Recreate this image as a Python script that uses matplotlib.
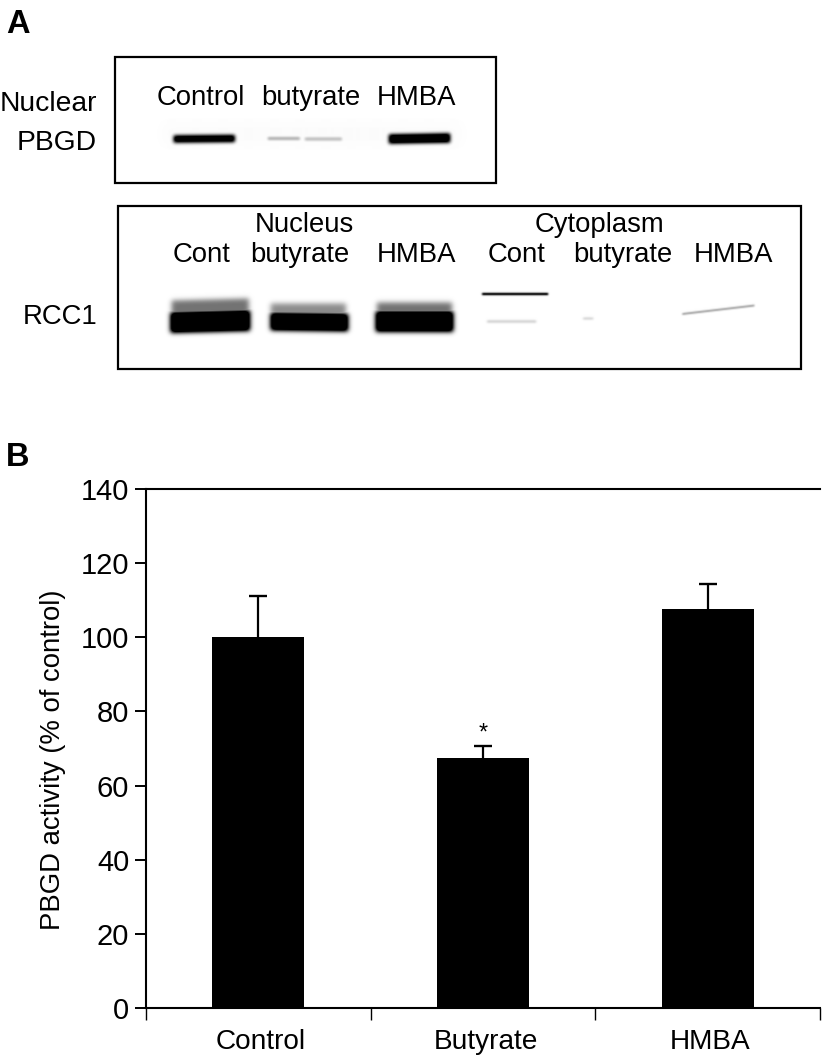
import numpy as np
import matplotlib
matplotlib.use("Agg")
import matplotlib.pyplot as plt
from matplotlib.patches import Rectangle

plt.rcParams['font.family'] = ['Liberation Sans', 'DejaVu Sans']

# Panel B data
categories = ["Control", "Butyrate", "HMBA"]
activity = [100, 67.5, 107.5]
errors = [11.2, 3.3, 7.0]
y_ticks = [0, 20, 40, 60, 80, 100, 120, 140]

# Panel A labels
lanes_top = ["Control", "butyrate", "HMBA"]
lanes_bottom = ["Cont", "butyrate", "HMBA", "Cont", "butyrate", "HMBA"]

W, H = 822, 1058
FS = 19.8
fig = plt.figure(figsize=(W / 100, H / 100), dpi=100, facecolor="white")

# ---------- Panel A: overlay in pixel coordinates ----------
ov = fig.add_axes([0, 0, 1, 1])
ov.set_xlim(0, W)
ov.set_ylim(H, 0)
ov.axis("off")


def soft(v, lo, hi, s):
    return np.clip((v - lo) / s + .5, 0, 1) * np.clip((hi - v) / s + .5, 0, 1)


def blur(a, sigma):
    r = int(3 * sigma) + 1
    k = np.exp(-.5 * (np.arange(-r, r + 1) / sigma) ** 2)
    k /= k.sum()
    a = np.apply_along_axis(lambda m: np.convolve(m, k, mode="same"), 0, a)
    return np.apply_along_axis(lambda m: np.convolve(m, k, mode="same"), 1, a)


# band: x0, x1, y at left, y at right, height, darkness, blur sigma
bands = [
    (160, 462, 134, 134, 24, .014, 6),
    (173, 234, 138.5, 138, 7, 1.35, 1.8),
    (267, 299, 138, 138, 3, .34, 1.2),
    (304, 341, 138.5, 138.5, 3, .30, 1.2),
    (388, 449, 138.5, 137.5, 9, 1.4, 1.8),
    (171, 248, 312, 310, 24, .55, 2.5),
    (270, 345, 314, 314, 22, .45, 2.5),
    (376, 451, 314, 314, 24, .55, 2.5),
    (170, 249, 322, 320, 20, 1.6, 2.4),
    (270, 347, 321, 322, 17, 1.6, 2.4),
    (375, 452, 321, 321, 20, 1.6, 2.4),
    (481, 547, 293.5, 293.5, 2.4, 1.05, .7),
    (486, 535, 321, 321, 2.2, .22, 1),
    (582, 592, 318, 318, 1.6, .25, 1),
    (681, 753, 313.5, 305, 1.8, .42, .8),
]
yy, xx = np.mgrid[0:400, 0:W]
ink = np.zeros(xx.shape)
for x0, x1, yl, yr, h, dark, sig in bands:
    yc = yl + (yr - yl) * np.clip((xx - x0) / (x1 - x0), 0, 1)
    shape = soft(xx, x0, x1, 1) * soft(yy - yc, -h / 2, h / 2, 1)
    ink = np.maximum(ink, dark * blur(shape, sig))
ink = np.clip(ink, 0, 1)
ov.imshow(1 - ink, cmap="gray", vmin=0, vmax=1, extent=(0, W, 400, 0),
          interpolation="bilinear", aspect="auto", zorder=1)
ov.set_xlim(0, W)
ov.set_ylim(H, 0)

for x0, y0, x1, y1 in [(115, 57, 496, 183), (117.5, 206, 801, 369)]:
    ov.add_patch(Rectangle((x0, y0), x1 - x0, y1 - y0, fill=False, ec="black", lw=1.6, zorder=3))


def label(x, y, s, ha="center", **kw):
    ov.text(x, y, s, ha=ha, va="baseline", fontsize=kw.pop("fontsize", FS), color="black", zorder=4, **kw)


label(6, 33, "A", ha="left", fontsize=23.5, fontweight="bold")
label(6, 466, "B", ha="left", fontsize=23.5, fontweight="bold")
label(0, 111, "Nuclear", ha="left", fontsize=20.3)
label(97, 150, "PBGD", ha="right", fontsize=20.3)
label(97, 324, "RCC1", ha="right")
for x, s in zip([201, 311, 416], lanes_top):
    label(x, 105, s)
label(304, 232, "Nucleus")
label(599, 232, "Cytoplasm")
for x, s in zip([202, 300, 416.5, 516.5, 623, 733.5], lanes_bottom):
    label(x, 262, s)

# ---------- Panel B ----------
ax = fig.add_axes([146 / W, 1 - 1008 / H, (820 - 146) / W, (1008 - 489) / H])
ax.patch.set_alpha(0)
pos = np.arange(len(categories)) + .5
tops = np.array(activity) + np.array(errors)
ax.bar(pos, activity, width=.41, color="black", zorder=2)
ax.vlines(pos, activity, tops, color="black", lw=1.6, zorder=1)
ax.plot(pos, tops, ls="none", marker="_", ms=12.5, mew=1.7, color="black", zorder=1)
ax.set_xlim(0, 3)
ax.set_ylim(0, 140)
ax.set_yticks(y_ticks)
ax.set_xticks([0, 1, 2, 3])
ax.set_xticklabels([])
ax.set_xticks(pos + .011, minor=True)
ax.set_xticklabels(categories, minor=True, fontsize=20.2)
ax.tick_params(axis="x", which="major", length=8.6, width=1.0, direction="out")
ax.tick_params(axis="x", which="minor", length=0, pad=15)
ax.tick_params(axis="y", length=8, width=1.4, labelsize=21, pad=4)
ax.spines["right"].set_visible(False)
for s in ("top", "left", "bottom"):
    ax.spines[s].set_linewidth(1.5)
ax.set_ylabel("PBGD activity (% of control)", fontsize=FS)
ax.yaxis.set_label_coords(66 / W, 1 - 760 / H, transform=fig.transFigure)
ax.text(pos[1], tops[1] + .2, "*", ha="center", va="bottom", fontsize=FS * .85)

fig.savefig("out.png", dpi=100)
